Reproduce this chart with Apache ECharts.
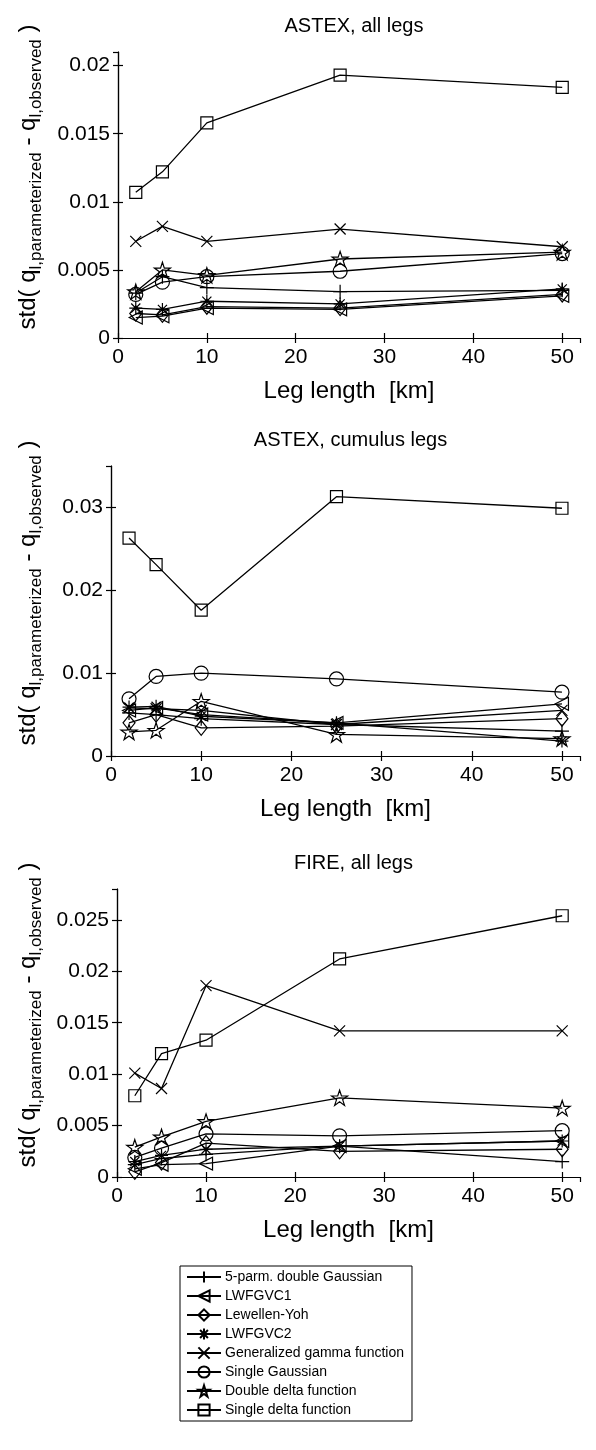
<!DOCTYPE html>
<html>
<head>
<meta charset="utf-8">
<script src="https://cdn.jsdelivr.net/npm/echarts@6/dist/echarts.min.js"></script>
<style>
html,body{margin:0;padding:0;background:#fff;}
#c{width:596px;height:1450px;}
</style>
</head>
<body>
<div id="c"></div>
<script>
// ---------- data ----------
const legLengths = [2, 5, 10, 25, 50];
const seriesNames = ['5-parm. double Gaussian', 'LWFGVC1', 'Lewellen-Yoh', 'LWFGVC2',
  'Generalized gamma function', 'Single Gaussian', 'Double delta function', 'Single delta function'];

// ASTEX, all legs
const astexAll_dblGauss = [0.0033, 0.0045, 0.0037, 0.0034, 0.0035];
const astexAll_lwfgvc1  = [0.0015, 0.0016, 0.0022, 0.0021, 0.0031];
const astexAll_lewYoh   = [0.0018, 0.0017, 0.0023, 0.0022, 0.0032];
const astexAll_lwfgvc2  = [0.0022, 0.0021, 0.0027, 0.0025, 0.0036];
const astexAll_genGamma = [0.0071, 0.0082, 0.0071, 0.0080, 0.0067];
const astexAll_sglGauss = [0.0032, 0.0041, 0.0045, 0.0049, 0.0062];
const astexAll_dblDelta = [0.0034, 0.0050, 0.0046, 0.0058, 0.0063];
const astexAll_sglDelta = [0.0107, 0.0122, 0.0158, 0.0193, 0.0184];

// ASTEX, cumulus legs
const astexCu_dblGauss = [0.0052, 0.0050, 0.0045, 0.0038, 0.0030];
const astexCu_lwfgvc1  = [0.0055, 0.0058, 0.0050, 0.0040, 0.0063];
const astexCu_lewYoh   = [0.0040, 0.0050, 0.0034, 0.0036, 0.0045];
const astexCu_lwfgvc2  = [0.0059, 0.0060, 0.0048, 0.0040, 0.0018];
const astexCu_genGamma = [0.0058, 0.0057, 0.0055, 0.0038, 0.0055];
const astexCu_sglGauss = [0.0069, 0.0096, 0.0100, 0.0093, 0.0077];
const astexCu_dblDelta = [0.0029, 0.0031, 0.0066, 0.0026, 0.0021];
const astexCu_sglDelta = [0.0263, 0.0231, 0.0176, 0.0313, 0.0299];

// FIRE, all legs
const fire_dblGauss = [0.0012, 0.0018, 0.0022, 0.0030, 0.0015];
const fire_lwfgvc1  = [0.0008, 0.0012, 0.0013, 0.0030, 0.0035];
const fire_lewYoh   = [0.0005, 0.0014, 0.0033, 0.0025, 0.0027];
const fire_lwfgvc2  = [0.0015, 0.0021, 0.0027, 0.0030, 0.0035];
const fire_genGamma = [0.0101, 0.0086, 0.0186, 0.0142, 0.0142];
const fire_sglGauss = [0.0019, 0.0028, 0.0042, 0.0040, 0.0045];
const fire_dblDelta = [0.0029, 0.0039, 0.0054, 0.0077, 0.0067];
const fire_sglDelta = [0.0079, 0.0120, 0.0133, 0.0212, 0.0254];

const panelTitles = ['ASTEX, all legs', 'ASTEX, cumulus legs', 'FIRE, all legs'];
const xTicks = [0, 10, 20, 30, 40, 50];
const xTickLabels = ['0', '10', '20', '30', '40', '50'];
const yTicks1 = [0, 0.005, 0.01, 0.015, 0.02];
const yTickLabels1 = ['0', '0.005', '0.01', '0.015', '0.02'];
const yTicks2 = [0, 0.01, 0.02, 0.03];
const yTickLabels2 = ['0', '0.01', '0.02', '0.03'];
const yTicks3 = [0, 0.005, 0.01, 0.015, 0.02, 0.025];
const yTickLabels3 = ['0', '0.005', '0.01', '0.015', '0.02', '0.025'];
const xLabel = 'Leg length  [km]';

// ---------- styling / layout ----------
const FONT = '"Liberation Sans", Arial, Helvetica, sans-serif';
const panelData = [
  [astexAll_dblGauss, astexAll_lwfgvc1, astexAll_lewYoh, astexAll_lwfgvc2, astexAll_genGamma, astexAll_sglGauss, astexAll_dblDelta, astexAll_sglDelta],
  [astexCu_dblGauss, astexCu_lwfgvc1, astexCu_lewYoh, astexCu_lwfgvc2, astexCu_genGamma, astexCu_sglGauss, astexCu_dblDelta, astexCu_sglDelta],
  [fire_dblGauss, fire_lwfgvc1, fire_lewYoh, fire_lwfgvc2, fire_genGamma, fire_sglGauss, fire_dblDelta, fire_sglDelta]
];
const panelY = [
  {ticks: yTicks1, labels: yTickLabels1, max: 0.021, interval: 0.005},
  {ticks: yTicks2, labels: yTickLabels2, max: 0.035, interval: 0.01},
  {ticks: yTicks3, labels: yTickLabels3, max: 0.028, interval: 0.005}
];
const RIGHT = 580;
const grids = [
  {left: 118, top: 52, width: RIGHT - 118, height: 286},
  {left: 111, top: 466, width: RIGHT - 111, height: 290},
  {left: 117, top: 889, width: RIGHT - 117, height: 288}
];
const XMAX = 52;

const starPath = 'path://M5,0L6.123,3.455L9.755,3.455L6.816,5.59L7.939,9.045L5,6.91L2.061,9.045L3.184,5.59L0.245,3.455L3.877,3.455Z';
const symbols = [
  {symbol: 'path://M0,5L10,5M5,0L5,10', size: 14},
  {symbol: 'path://M0,5L10,0L10,10Z', size: 13},
  {symbol: 'path://M5,0L9,5L5,10L1,5Z', size: 15},
  {symbol: 'path://M5,0L5,10M0,5L10,5M1.5,1.5L8.5,8.5M8.5,1.5L1.5,8.5', size: 13},
  {symbol: 'path://M0,0L10,10M10,0L0,10', size: 11},
  {symbol: 'circle', size: 14},
  {symbol: starPath, size: 16},
  {symbol: 'rect', size: 12}
];

function fmt(ticks, labels) {
  return function (v) {
    for (let i = 0; i < ticks.length; i++) {
      if (Math.abs(v - ticks[i]) < 1e-9) return labels[i];
    }
    return '';
  };
}

const axisLineStyle = {lineStyle: {color: '#000', width: 1.2}};
const tickStyle = {inside: true, length: 5, lineStyle: {color: '#000', width: 1.2}};

const xAxes = [], yAxes = [], series = [], titles = [];
grids.forEach((g, i) => {
  xAxes.push({
    type: 'value', gridIndex: i, min: 0, max: XMAX, interval: 10, position: 'bottom',
    axisLine: axisLineStyle, axisTick: tickStyle, splitLine: {show: false},
    axisLabel: {color: '#000', fontSize: 21, fontFamily: FONT, margin: 9, showMaxLabel: false,
      formatter: fmt(xTicks, xTickLabels)},
    name: xLabel, nameLocation: 'middle', nameGap: 41,
    nameTextStyle: {color: '#000', fontSize: 24, fontFamily: FONT}
  });
  xAxes.push({
    type: 'value', gridIndex: i, min: 0, max: XMAX, interval: 10, position: 'top',
    axisLine: axisLineStyle, axisTick: tickStyle, splitLine: {show: false}, axisLabel: {show: false}
  });
  const py = panelY[i];
  yAxes.push({
    type: 'value', gridIndex: i, min: 0, max: py.max, interval: py.interval, position: 'left',
    axisLine: axisLineStyle, axisTick: tickStyle, splitLine: {show: false},
    axisLabel: {color: '#000', fontSize: 21, fontFamily: FONT, margin: 8, showMaxLabel: false,
      formatter: fmt(py.ticks, py.labels)},
    name: '{m|std( q}{s|l,parameterized}{m| - q}{s|l,observed}{m| )}',
    nameLocation: 'middle', nameRotate: 90, nameGap: g.left - 45,
    nameTextStyle: {
      color: '#000', fontFamily: FONT, padding: [0, 0, 0, 36],
      rich: {
        m: {fontSize: 24, lineHeight: 34, verticalAlign: 'middle', fontFamily: FONT, color: '#000'},
        s: {fontSize: 17, lineHeight: 15, verticalAlign: 'bottom', fontFamily: FONT, color: '#000'}
      }
    }
  });
  yAxes.push({
    type: 'value', gridIndex: i, min: 0, max: py.max, interval: py.interval, position: 'right',
    axisLine: axisLineStyle, axisTick: tickStyle, splitLine: {show: false}, axisLabel: {show: false}
  });
  titles.push({
    text: panelTitles[i], left: g.left + g.width / 2, textAlign: 'center', top: g.top - 41,
    textStyle: {color: '#000', fontSize: 20, fontWeight: 'normal', fontFamily: FONT}
  });
  panelData[i].forEach((vals, k) => {
    series.push({
      type: 'line', name: seriesNames[k], xAxisIndex: 2 * i, yAxisIndex: 2 * i,
      data: legLengths.map((x, j) => [x, vals[j]]),
      symbol: symbols[k].symbol, symbolSize: symbols[k].size, symbolKeepAspect: true,
      showAllSymbol: true,
      lineStyle: {color: '#000', width: 1.3},
      itemStyle: {color: 'rgba(0,0,0,0)', borderColor: '#000', borderWidth: 1.2},
      emphasis: {disabled: true},
      z: 2 + k
    });
  });
});

const chart = echarts.init(document.getElementById('c'), null, {renderer: 'canvas'});
chart.setOption({
  animation: false,
  backgroundColor: '#fff',
  title: titles,
  grid: grids,
  xAxis: xAxes,
  yAxis: yAxes,
  legend: {
    data: seriesNames, orient: 'vertical', left: 180, top: 1266,
    itemWidth: 34, itemHeight: 14, itemGap: 5,
    padding: [4, 8, 4, 6], borderColor: '#000', borderWidth: 1,
    textStyle: {color: '#000', fontSize: 14, fontFamily: FONT, padding: [0, 0, 0, -1]},
    selectedMode: false
  },
  series: series
});
</script>
</body>
</html>
